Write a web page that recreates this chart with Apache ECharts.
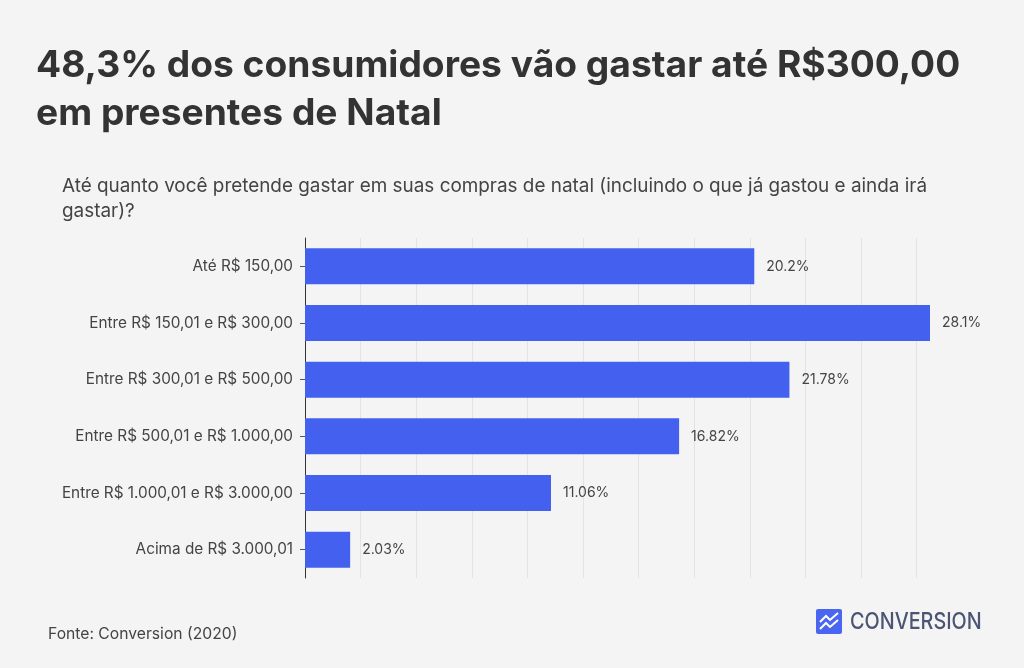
<!DOCTYPE html>
<html>
<head>
<meta charset="utf-8">
<script src="https://cdn.jsdelivr.net/npm/echarts@6/dist/echarts.min.js"></script>
<style>
html,body{margin:0;padding:0;background:#f4f4f4;}
#chart{width:1024px;height:668px;}
</style>
</head>
<body>
<div id="chart"></div>
<script>
const categories = [
  "Até R$ 150,00",
  "Entre R$ 150,01 e R$ 300,00",
  "Entre R$ 300,01 e R$ 500,00",
  "Entre R$ 500,01 e R$ 1.000,00",
  "Entre R$ 1.000,01 e R$ 3.000,00",
  "Acima de R$ 3.000,01"
];
const values = [20.2, 28.1, 21.78, 16.82, 11.06, 2.03];
const valueLabels = ["20.2%", "28.1%", "21.78%", "16.82%", "11.06%", "2.03%"];

const titleText = "48,3% dos consumidores vão gastar até R$300,00\nem presentes de Natal";
const subtitleText = "Até quanto você pretende gastar em suas compras de natal (incluindo o que já gastou e ainda irá\ngastar)?";
const sourceText = "Fonte: Conversion (2020)";
const brandText = "CONVERSION";

const FONT = "Inter, 'Noto Sans', sans-serif";
const chart = echarts.init(document.getElementById('chart'));
chart.setOption({
  backgroundColor: '#f4f4f4',
  animation: false,
  title: [
    { text: titleText, left: 36, top: 42, padding: 0,
      textStyle: { fontFamily: FONT, fontSize: 37.2, fontWeight: 700, color: '#333333', lineHeight: 48 } },
    { text: subtitleText, left: 62, top: 174, padding: 0,
      textStyle: { fontFamily: FONT, fontSize: 18.9, fontWeight: 400, color: '#444444', lineHeight: 25 } },
    { text: sourceText, left: 48, top: 626, padding: 0,
      textStyle: { fontFamily: FONT, fontSize: 15.7, fontWeight: 400, color: '#444444' } }
  ],
  grid: { left: 305, right: 94, top: 238, bottom: 90, containLabel: false },
  xAxis: {
    type: 'value', min: 0, max: 28.1, interval: 2.5,
    axisLabel: { show: false }, axisTick: { show: false }, axisLine: { show: false },
    splitLine: { show: true, showMaxLine: false, showMinLine: false, lineStyle: { color: '#e3e3e3', width: 1 } }
  },
  yAxis: {
    type: 'category', data: categories, inverse: true,
    axisLine: { show: true, lineStyle: { color: '#333333', width: 1 } },
    axisTick: { show: true, alignWithLabel: true, length: 5, lineStyle: { color: '#555555' } },
    axisLabel: { fontFamily: FONT, fontSize: 15.3, color: '#444444', margin: 12 }
  },
  series: [{
    type: 'bar', data: values, barWidth: 36,
    itemStyle: { color: '#4361ee' },
    label: { show: true, position: 'right', distance: 12, fontFamily: FONT, fontSize: 14, color: '#444444',
      formatter: p => valueLabels[p.dataIndex] }
  }],
  graphic: [
    { type: 'rect', shape: { x: 816, y: 609, width: 26, height: 25, r: 2 }, style: { fill: '#4a66f0' } },
    { type: 'polyline', shape: { points: [[820, 622], [826, 616], [830, 620], [838, 613]] },
      style: { stroke: '#ffffff', lineWidth: 2, fill: null } },
    { type: 'polyline', shape: { points: [[820, 629], [826, 623], [830, 627], [838, 620]] },
      style: { stroke: '#ffffff', lineWidth: 2, fill: null } },
    { type: 'text', x: 850, y: 622.5, scaleX: 0.86,
      style: { x: 0, y: 0, text: brandText, fontFamily: FONT, fontSize: 23, fontWeight: 500, fill: '#4b5573',
        textAlign: 'left', textVerticalAlign: 'middle' } }
  ]
});
</script>
</body>
</html>
